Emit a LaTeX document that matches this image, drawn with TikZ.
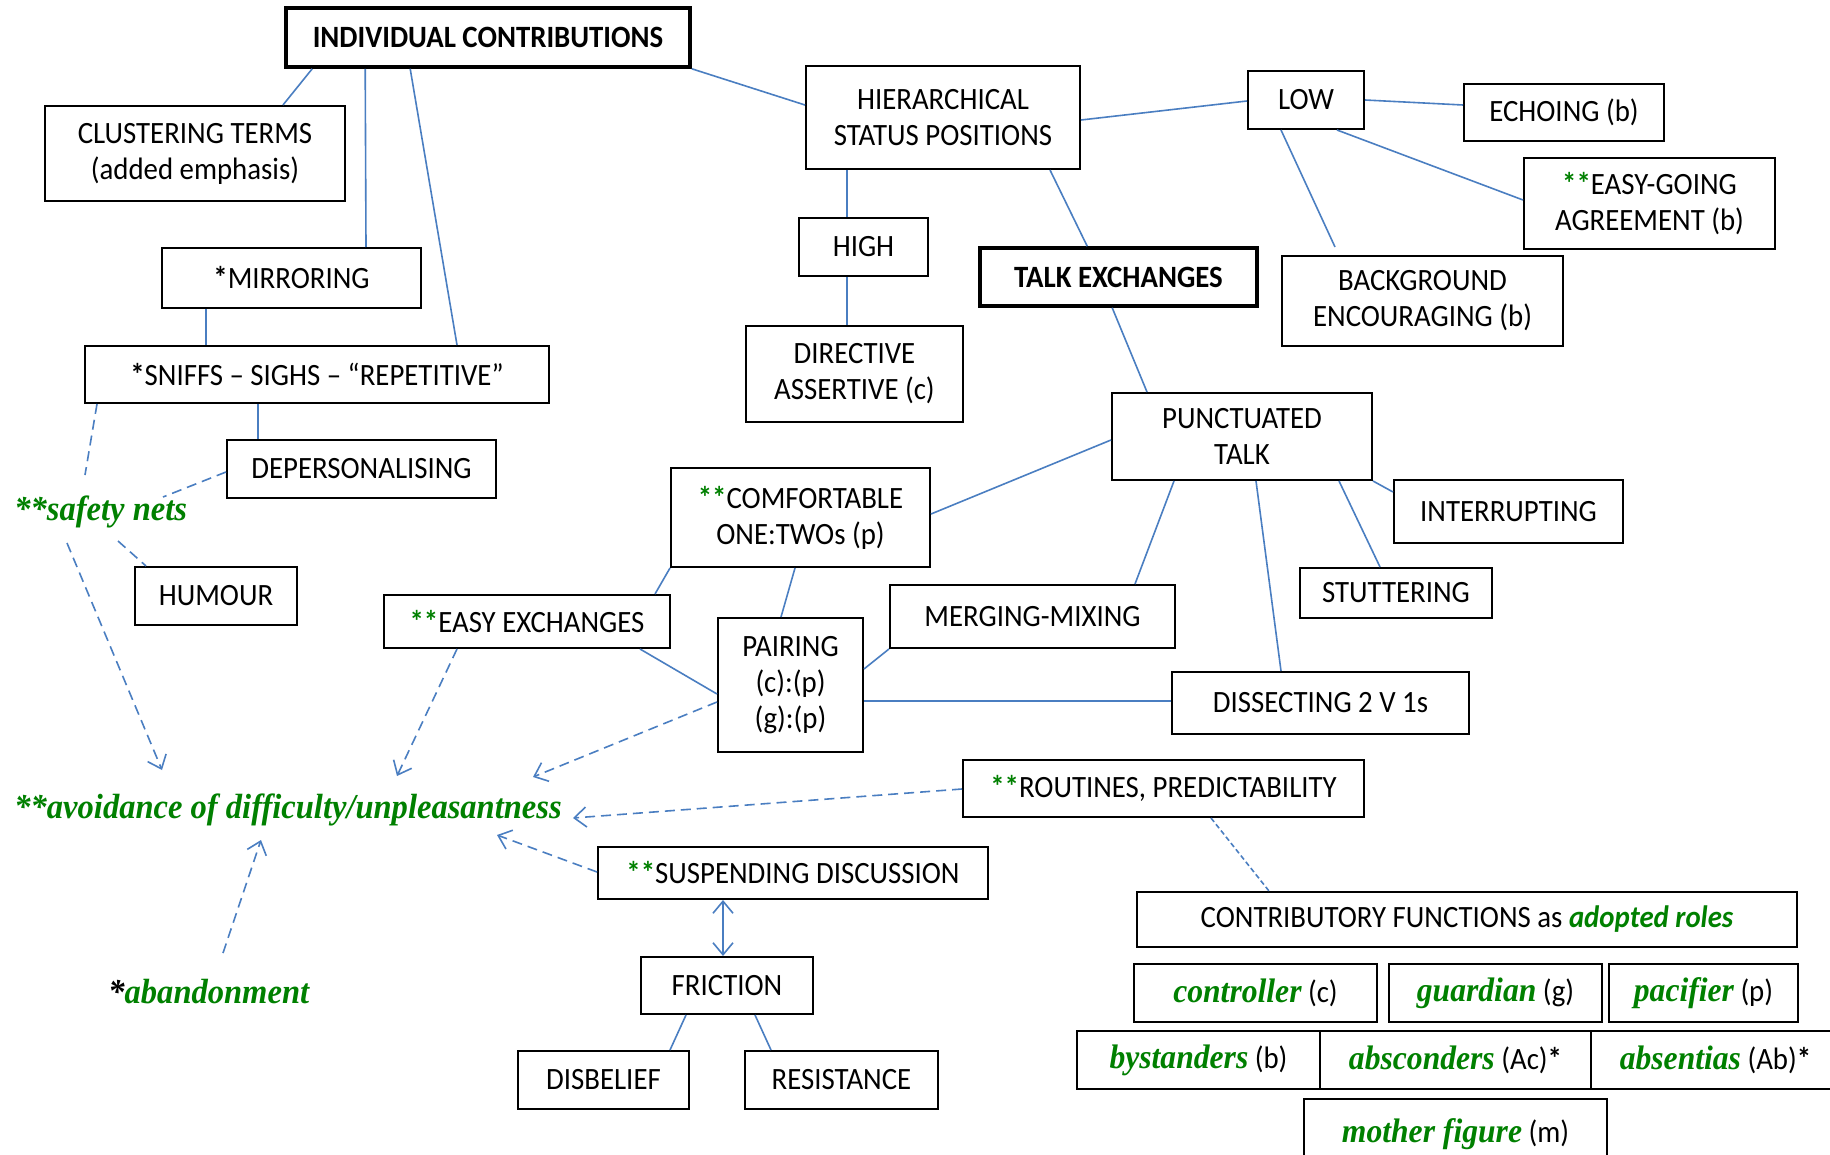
\documentclass[tikz,border=0pt]{standalone}
\usepackage{fontspec}
\setmainfont{Carlito}[FakeStretch=0.93]
\newfontfamily\tnr{Liberation Serif}[FakeStretch=0.93]
\usetikzlibrary{arrows.meta,calc}
\definecolor{grn}{RGB}{0,128,0}
\definecolor{lnk}{RGB}{74,126,193}
\newcommand\gi[1]{{\fontsize{17}{18.5}\selectfont\tnr\bfseries\itshape\color{grn}#1}}
\newcommand\gs{{\bfseries\color{grn}**}}
\newcommand\bx[7][]{%
  \pgfmathsetmacro\bxcx{(#3+#5)/2}%
  \pgfmathsetmacro\bxcy{(#4+#6)/2}%
  \pgfmathsetmacro\bxw{(#5-#3)*0.5}%
  \pgfmathsetmacro\bxh{(#6-#4)*0.5}%
  \node[box,minimum width=\bxw pt,minimum height=\bxh pt,#1] (#2) at (\bxcx,\bxcy) {#7};}
\tikzset{
  box/.style={draw=black,line width=1pt,fill=white,inner sep=0pt,align=center,
    font=\fontsize{15.5}{18}\selectfont},
  thickbox/.style={line width=1.8pt,font=\fontsize{15.5}{18}\selectfont\bfseries},
  link/.style={draw=lnk,line width=0.8pt},
  dlink/.style={link,dash pattern=on 5pt off 3pt},
  flink/.style={link,dash pattern=on 2.5pt off 1.5pt},
  arr/.style={-{Straight Barb[length=6pt,width=10pt]}},
  gtext/.style={inner sep=0pt,font=\fontsize{17.5}{20}\selectfont\tnr\bfseries\itshape,text=grn}
}
\begin{document}
\begin{tikzpicture}[x=0.5pt,y=-0.5pt]
\useasboundingbox (0,0) rectangle (1830,1155);
\clip (0,0) rectangle (1830,1155);
\fill[white] (0,0) rectangle (1830,1155);
% boxes
\bx[thickbox]{ic}{286}{8}{690}{67}{INDIVIDUAL CONTRIBUTIONS}
\bx{clu}{45}{106}{345}{201}{CLUSTERING TERMS\\(added emphasis)}
\bx{mir}{162}{248}{421}{308}{{\bfseries *}MIRRORING}
\bx{sni}{85}{346}{549}{403}{{\bfseries *}SNIFFS – SIGHS – “REPETITIVE”}
\bx{dep}{227}{440}{496}{498}{DEPERSONALISING}
\bx{hum}{135}{567}{297}{625}{HUMOUR}
\bx{hsp}{806}{66}{1080}{169}{HIERARCHICAL\\STATUS POSITIONS}
\bx{low}{1248}{71}{1364}{129}{LOW}
\bx{ech}{1464}{84}{1664}{141}{ECHOING (b)}
\bx{egg}{1524}{158}{1775}{249}{\gs EASY-GOING\\AGREEMENT (b)}
\bx{high}{799}{218}{928}{276}{HIGH}
\bx[thickbox]{tex}{980}{248}{1257}{306}{TALK EXCHANGES}
\bx{bkg}{1282}{256}{1563}{346}{BACKGROUND\\ENCOURAGING (b)}
\bx{dir}{746}{326}{963}{422}{DIRECTIVE\\ASSERTIVE (c)}
\bx{pt}{1112}{393}{1372}{480}{PUNCTUATED\\TALK}
\bx{comf}{671}{468}{930}{567}{\gs COMFORTABLE\\ONE:TWOs (p)}
\bx{intr}{1394}{480}{1623}{543}{INTERRUPTING}
\bx{stut}{1300}{568}{1492}{618}{STUTTERING}
\bx{merg}{890}{585}{1175}{648}{MERGING-MIXING}
\bx{eas}{384}{595}{670}{648}{\gs EASY EXCHANGES}
\bx{pair}{718}{618}{863}{752}{PAIRING\\(c):(p)\\(g):(p)}
\bx{dis}{1172}{672}{1469}{734}{DISSECTING 2 V 1s}
\bx{rout}{963}{760}{1364}{817}{\gs ROUTINES, PREDICTABILITY}
\bx{susp}{598}{847}{988}{899}{\gs SUSPENDING DISCUSSION}
\bx{fric}{641}{957}{813}{1014}{FRICTION}
\bx{disb}{518}{1051}{689}{1109}{DISBELIEF}
\bx{res}{745}{1051}{938}{1109}{RESISTANCE}
\bx{cf}{1137}{892}{1797}{947}{CONTRIBUTORY FUNCTIONS as {\bfseries\itshape\color{grn}adopted roles}}
\bx{ctrl}{1134}{964}{1377}{1022}{\gi{controller} (c)}
\bx{guar}{1389}{964}{1602}{1022}{\gi{guardian} (g)}
\bx{pac}{1609}{964}{1798}{1022}{\gi{pacifier} (p)}
\bx{bys}{1077}{1031}{1320}{1089}{\gi{bystanders} (b)}
\bx{absc}{1320}{1031}{1591}{1089}{\gi{absconders} (Ac){\bfseries *}}
\bx{abse}{1591}{1031}{1840}{1089}{\gi{absentias} (Ab){\bfseries *}}
\bx{moth}{1304}{1099}{1607}{1170}{\gi{mother figure} (m)}
% free texts
\node[gtext,anchor=base west] (safe) at (14,520) {**safety nets};
\node[gtext,anchor=base west] (avoid) at (14,818) {**avoidance of difficulty/unpleasantness};
\node[gtext,anchor=base west] (aban) at (108,1003) {{\color{black}*}abandonment};
% solid connectors
\draw[link] ($(ic.south west)+(28,0)$) -- ($(clu.north west)+(239,0)$);
\draw[link] ($(ic.south west)+(81,0)$) -- ($(mir.north west)+(205,0)$);
\draw[link] ($(ic.south west)+(126,0)$) -- ($(sni.north west)+(373,0)$);
\draw[link] ($(mir.south west)+(45,0)$) -- ($(sni.north west)+(122,0)$);
\draw[link] ($(sni.south west)+(174,0)$) -- ($(dep.north west)+(32,0)$);
\draw[link] (ic.south east) -- ($(hsp.north west)+(0,40)$);
\draw[link] ($(hsp.north east)+(0,55)$) -- ($(low.north west)+(0,31)$);
\draw[link] ($(low.north east)+(0,30)$) -- ($(ech.north west)+(0,22)$);
\draw[link] ($(low.south west)+(90,0)$) -- ($(egg.north west)+(0,43)$);
\draw[link] ($(low.south west)+(34,0)$) -- ($(bkg.north west)+(54,-8)$);
\draw[link] ($(hsp.south west)+(42,0)$) -- ($(high.north west)+(49,0)$);
\draw[link] ($(high.south west)+(49,0)$) -- ($(dir.north west)+(102,0)$);
\draw[link] ($(hsp.south west)+(245,0)$) -- ($(tex.north west)+(109,0)$);
\draw[link] ($(tex.south west)+(134,0)$) -- ($(pt.north west)+(36,0)$);
\draw[link] ($(pt.north west)+(0,48)$) -- ($(comf.north east)+(0,47)$);
\draw[link] (comf.south west) -- ($(eas.north east)+(-16,0)$);
\draw[link] ($(comf.south west)+(125,0)$) -- ($(pair.north west)+(64,0)$);
\draw[link] ($(pt.south west)+(63,0)$) -- ($(merg.north west)+(246,0)$);
\draw[link] ($(pt.south west)+(145,0)$) -- ($(dis.north west)+(110,0)$);
\draw[link] ($(pt.south west)+(228,0)$) -- ($(stut.north west)+(81,0)$);
\draw[link] (pt.south east) -- ($(intr.north west)+(0,13)$);
\draw[link] ($(eas.south west)+(257,0)$) -- ($(pair.north west)+(0,77)$);
\draw[link] (merg.south west) -- ($(pair.north east)+(0,52)$);
\draw[link] ($(pair.north east)+(0,84)$) -- ($(dis.north west)+(0,30)$);
\draw[link] ($(fric.south west)+(46,0)$) -- ($(disb.north west)+(153,0)$);
\draw[link] ($(fric.south west)+(115,0)$) -- ($(res.north west)+(27,0)$);
\draw[link,{Straight Barb[length=6pt,width=10pt]}-{Straight Barb[length=6pt,width=10pt]}] ($(susp.south west)+(126,0)$) -- ($(fric.north west)+(83,0)$);
% dashed connectors
\draw[dlink] ($(sni.south west)+(13,0)$) -- ($(safe.base west)+(71,-45)$);
\draw[dlink] ($(dep.north west)+(0,33)$) -- ($(safe.base west)+(149,-23)$);
\draw[dlink] ($(safe.base west)+(104,21)$) -- ($(hum.north west)+(12,0)$);
\draw[dlink,arr] ($(safe.base west)+(53,23)$) -- ($(avoid.base west)+(148,-48)$);
\draw[dlink,arr] ($(eas.south west)+(74,0)$) -- ($(avoid.base west)+(383,-42)$);
\draw[dlink,arr] ($(pair.north west)+(0,85)$) -- ($(avoid.base west)+(519,-41)$);
\draw[dlink,arr] ($(rout.north west)+(0,30)$) -- ($(avoid.base west)+(559,0)$);
\draw[dlink,arr] ($(susp.north west)+(0,26)$) -- ($(avoid.base west)+(483,17)$);
\draw[dlink,arr] ($(aban.base west)+(115,-50)$) -- ($(avoid.base west)+(247,22)$);
\draw[flink] ($(rout.south west)+(249,0)$) -- ($(cf.north west)+(133,0)$);
\end{tikzpicture}
\end{document}
